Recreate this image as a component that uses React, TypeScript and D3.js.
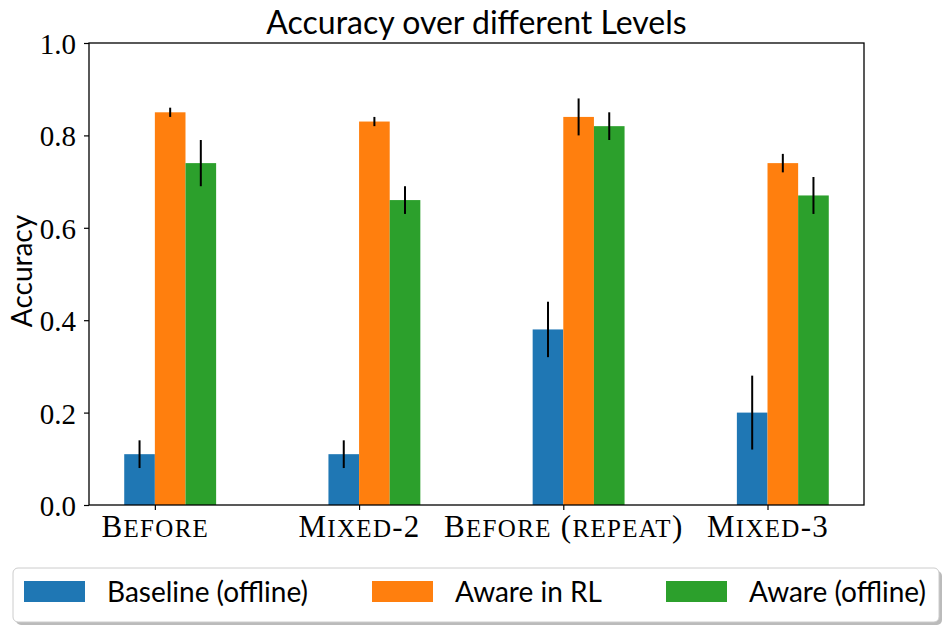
import React, { useRef, useEffect } from "react";
import * as d3 from "d3";

const levels = ["Before", "Mixed-2", "Before (repeat)", "Mixed-3"];
const seriesNames = ["Baseline (offline)", "Aware in RL", "Aware (offline)"];
const seriesColors = ["#1f77b4", "#ff7f0e", "#2ca02c"];
const baseline = [0.11, 0.11, 0.38, 0.2];
const baselineErr = [0.03, 0.03, 0.06, 0.08];
const awareRL = [0.85, 0.83, 0.84, 0.74];
const awareRLErr = [0.01, 0.01, 0.04, 0.02];
const awareOffline = [0.74, 0.66, 0.82, 0.67];
const awareOfflineErr = [0.05, 0.03, 0.03, 0.04];
const yTicks = [0, 0.2, 0.4, 0.6, 0.8, 1.0];

const SERIF = "'Liberation Serif', 'DejaVu Serif', serif";
const SANS = "Lato, 'Noto Sans', sans-serif";

// split a label into runs of "big" (capitals, digits, punctuation) and "small" (lowercase) chars
const smallCapsRuns = (s: string) => {
  const runs: { text: string; small: boolean }[] = [];
  for (const ch of s) {
    const small = ch !== ch.toUpperCase();
    const last = runs[runs.length - 1];
    if (last && last.small === small) last.text += small ? ch.toUpperCase() : ch;
    else runs.push({ text: small ? ch.toUpperCase() : ch, small });
  }
  return runs;
};

const App: React.FC = () => {
  const svgRef = useRef<SVGSVGElement | null>(null);

  useEffect(() => {
    if (!svgRef.current) return;
    const svg = d3.select(svgRef.current);
    svg.selectAll("*").remove();

    const width = 950;
    const height = 632;
    const margin = { top: 43, right: 86, bottom: 127, left: 89 };
    const barW = 0.15;
    const offsets = [-0.15, 0, 0.15];

    const x = d3
      .scaleLinear()
      .domain([-0.3225, 3.4725])
      .range([margin.left, width - margin.right]);
    const y = d3
      .scaleLinear()
      .domain([0, 1])
      .range([height - margin.bottom, margin.top]);

    svg.append("rect").attr("width", width).attr("height", height).attr("fill", "#fff");

    const series = [
      { vals: baseline, errs: baselineErr },
      { vals: awareRL, errs: awareRLErr },
      { vals: awareOffline, errs: awareOfflineErr },
    ];

    // Bars
    series.forEach((s, si) => {
      svg
        .append("g")
        .selectAll("rect")
        .data(s.vals)
        .join("rect")
        .attr("x", (_, i) => x(i + offsets[si]))
        .attr("width", x(barW) - x(0))
        .attr("y", (d) => y(d))
        .attr("height", (d) => y(0) - y(d))
        .attr("fill", seriesColors[si]);
    });

    // Error bars
    series.forEach((s, si) => {
      svg
        .append("g")
        .selectAll("line")
        .data(s.vals)
        .join("line")
        .attr("x1", (_, i) => x(i + offsets[si] + barW / 2))
        .attr("x2", (_, i) => x(i + offsets[si] + barW / 2))
        .attr("y1", (d, i) => y(d - s.errs[i]))
        .attr("y2", (d, i) => y(d + s.errs[i]))
        .attr("stroke", "#000")
        .attr("stroke-width", 2);
    });

    // Frame
    svg
      .append("rect")
      .attr("x", margin.left)
      .attr("y", margin.top)
      .attr("width", width - margin.left - margin.right)
      .attr("height", height - margin.top - margin.bottom)
      .attr("fill", "none")
      .attr("stroke", "#000")
      .attr("stroke-width", 1.3);

    // Y axis
    svg
      .append("g")
      .attr("transform", `translate(${margin.left},0)`)
      .call(
        d3
          .axisLeft(y)
          .tickValues(yTicks)
          .tickSize(5)
          .tickPadding(8)
          .tickFormat(d3.format(".1f"))
      )
      .call((g) => g.select(".domain").remove())
      .call((g) => g.selectAll(".tick line").attr("stroke-width", 1.2))
      .call((g) =>
        g
          .selectAll(".tick text")
          .attr("font-family", SERIF)
          .attr("font-size", "29px")
          .attr("dy", "0.36em")
          .attr("fill", "#000")
      );

    // X axis
    const xAxis = svg
      .append("g")
      .attr("transform", `translate(0,${y(0)})`)
      .call(
        d3
          .axisBottom(x)
          .tickValues(d3.range(levels.length))
          .tickSize(5)
          .tickPadding(5)
          .tickFormat(() => "")
      )
      .call((g) => g.select(".domain").remove())
      .call((g) => g.selectAll(".tick line").attr("stroke-width", 1.2));

    // small-caps tick labels
    xAxis
      .selectAll<SVGGElement, number>(".tick")
      .select("text")
      .attr("y", 32)
      .attr("dy", null)
      .attr("font-family", SERIF)
      .attr("fill", "#000")
      .attr("letter-spacing", "1.3px")
      .each(function (d) {
        const t = d3.select(this);
        smallCapsRuns(levels[d]).forEach((r) => {
          t.append("tspan")
            .attr("font-size", r.small ? "25px" : "31px")
            .text(r.text);
        });
      });

    // Title
    svg
      .append("text")
      .attr("x", (margin.left + width - margin.right) / 2)
      .attr("y", 34)
      .attr("text-anchor", "middle")
      .attr("font-family", SANS)
      .attr("font-size", "32px")
      .text("Accuracy over different Levels");

    // Y label
    svg
      .append("text")
      .attr("transform", `translate(32,${(margin.top + height - margin.bottom) / 2 - 3}) rotate(-90)`)
      .attr("text-anchor", "middle")
      .attr("font-family", SANS)
      .attr("font-size", "28px")
      .text("Accuracy");

    // Legend
    const legend = svg.append("g");
    legend
      .append("rect")
      .attr("x", 16)
      .attr("y", 571)
      .attr("width", 926)
      .attr("height", 54)
      .attr("rx", 5)
      .attr("fill", "#bbb");
    legend
      .append("rect")
      .attr("x", 13)
      .attr("y", 568)
      .attr("width", 926)
      .attr("height", 54)
      .attr("rx", 5)
      .attr("fill", "#fff")
      .attr("stroke", "#ccc")
      .attr("stroke-width", 1);

    const legendX = [24, 372, 666];
    seriesNames.forEach((name, i) => {
      legend
        .append("rect")
        .attr("x", legendX[i])
        .attr("y", 581)
        .attr("width", 61)
        .attr("height", 21)
        .attr("fill", seriesColors[i]);
      legend
        .append("text")
        .attr("x", legendX[i] + 83)
        .attr("y", 602)
        .attr("font-family", SANS)
        .attr("font-size", "28px")
        .text(name);
    });
  }, []);

  return (
    <svg
      ref={svgRef}
      width={950}
      height={632}
      style={{ position: "absolute", left: 0, top: 0 }}
    />
  );
};

export default App;
